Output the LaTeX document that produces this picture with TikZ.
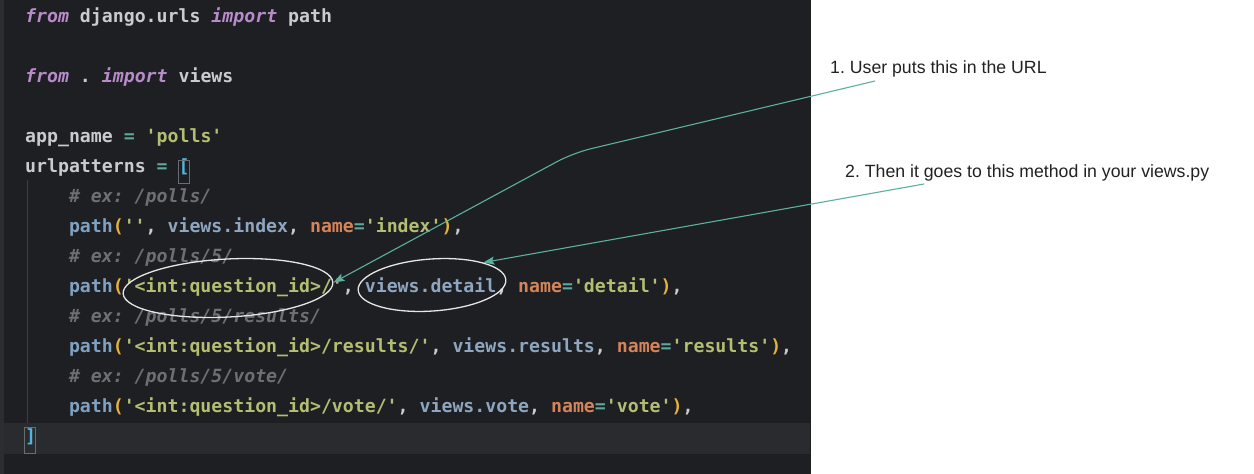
\documentclass[tikz,border=0pt]{standalone}
\usepackage{fontspec}
\setmainfont{Liberation Sans}
\newfontfamily\codefont{DejaVu Sans Mono}
\usetikzlibrary{shapes.geometric,arrows.meta}
\frenchspacing

\definecolor{bgdark}{HTML}{1E1F22}
\definecolor{hiline}{HTML}{2A2B2E}
\definecolor{edgec}{HTML}{2C2D30}
\definecolor{ident}{HTML}{C8CBCF}
\definecolor{kwc}{HTML}{B88BCB}
\definecolor{strc}{HTML}{B4BE72}
\definecolor{fnc}{HTML}{7FA2C4}
\definecolor{viewc}{HTML}{8EA6BF}
\definecolor{namec}{HTML}{D5845A}
\definecolor{parc}{HTML}{E3B23C}
\definecolor{eqc}{HTML}{5FA89E}
\definecolor{cmtc}{HTML}{6C7075}
\definecolor{curc}{HTML}{4FB8E0}
\definecolor{curbox}{HTML}{6A6D70}
\definecolor{guidec}{HTML}{3C3E42}
\definecolor{arrowc}{HTML}{5BB0A0}
\definecolor{ellc}{HTML}{E6E6E6}
\definecolor{notec}{HTML}{222222}

\newcommand\sqt{\textquotesingle}
\newcommand\ckw[1]{\textcolor{kwc}{\itshape #1}}
\newcommand\cstr[1]{\textcolor{strc}{#1}}
\newcommand\cfn[1]{\textcolor{fnc}{#1}}
\newcommand\cvw[1]{\textcolor{viewc}{#1}}
\newcommand\cnm[1]{\textcolor{namec}{#1}}
\newcommand\cpar[1]{\textcolor{parc}{#1}}
\newcommand\ceq[1]{\textcolor{eqc}{#1}}
\newcommand\ccmt[1]{\textcolor{cmtc}{\itshape #1}}
\newcommand\ccur[1]{\textcolor{curc}{#1}}

\tikzset{
  codeline/.style={anchor=base west, inner sep=0pt, text=ident,
    font=\codefont\bfseries\fontsize{18.2}{22}\selectfont},
  note/.style={anchor=base west, inner sep=0pt, text=notec,
    font=\fontsize{17.7}{21}\selectfont},
  circled/.style={ellipse, draw=ellc, line width=1.3pt, inner sep=0pt},
  arr/.style={draw=arrowc, line width=1.1pt, rounded corners=18pt,
    -{Stealth[length=11pt,width=8pt,inset=2pt]}},
  cursorbox/.style={draw=curbox, line width=0.9pt},
}

\begin{document}
\begin{tikzpicture}[x=1pt,y=-1pt]
\useasboundingbox (0,0) rectangle (1254,474);
% panels
\fill[white] (0,0) rectangle (1254,474);
\fill[bgdark] (0,0) rectangle (811,474);
\fill[edgec] (0,0) rectangle (4,474);
\fill[hiline] (4,423) rectangle (810,454);
\draw[guidec, line width=1pt] (27,180) -- (27,423);

% code
\node[codeline] (l0) at (25,22.5) {\ckw{from} django.urls \ckw{import} path};
\node[codeline] (l2) at (25,82.5) {\ckw{from} . \ckw{import} views};
\node[codeline] (l4) at (25,142.5) {app\_name \ceq{=} \cstr{\sqt polls\sqt}};
\node[codeline] (l5) at (25,172.5) {urlpatterns \ceq{=} \ccur{[}};
\node[codeline] (l6) at (68.8,202.5) {\ccmt{\# ex: /polls/}};
\node[codeline] (l7) at (68.8,232.5) {\cfn{path}\cpar{(}\cstr{\sqt\sqt}, \cvw{views.index}, \cnm{name}\ceq{=}\cstr{\sqt index\sqt}\cpar{)},};
\node[codeline] (l8) at (68.8,262.5) {\ccmt{\# ex: /polls/5/}};
\node[codeline] (l9) at (68.8,292.5) {\cfn{path}\cpar{(}\cstr{\sqt<int:question\_id>/\sqt}, \cvw{views.detail}, \cnm{name}\ceq{=}\cstr{\sqt detail\sqt}\cpar{)},};
\node[codeline] (l10) at (68.8,322.5) {\ccmt{\# ex: /polls/5/results/}};
\node[codeline] (l11) at (68.8,352.5) {\cfn{path}\cpar{(}\cstr{\sqt<int:question\_id>/results/\sqt}, \cvw{views.results}, \cnm{name}\ceq{=}\cstr{\sqt results\sqt}\cpar{)},};
\node[codeline] (l12) at (68.8,382.5) {\ccmt{\# ex: /polls/5/vote/}};
\node[codeline] (l13) at (68.8,412.5) {\cfn{path}\cpar{(}\cstr{\sqt<int:question\_id>/vote/\sqt}, \cvw{views.vote}, \cnm{name}\ceq{=}\cstr{\sqt vote\sqt}\cpar{)},};
\node[codeline] (l14) at (25,442.5) {\ccur{]}};

% cursor boxes
\draw[cursorbox] (178.5,160) rectangle (189.5,183);
\draw[cursorbox] (24.5,427) rectangle (35.5,453);

% highlight ellipses
\node[circled, minimum width=210pt, minimum height=58pt, rotate=3] (ell1) at (228,288) {};
\node[circled, minimum width=148pt, minimum height=52pt, rotate=4] (ell2) at (432,285) {};

% notes
\node[note] (t1) at (830,73) {1. User puts this in the URL};
\node[note] (t2) at (845,177) {2. Then it goes to this method in your views.py};

% connectors
\coordinate (s1) at (875,81);
\coordinate (b1) at (573,153);
\coordinate (s2) at (924,184);
\draw[arr] (s1) -- (b1) -- (ell1.east);
\draw[arr] (s2) -- (ell2.north east);
\end{tikzpicture}
\end{document}
